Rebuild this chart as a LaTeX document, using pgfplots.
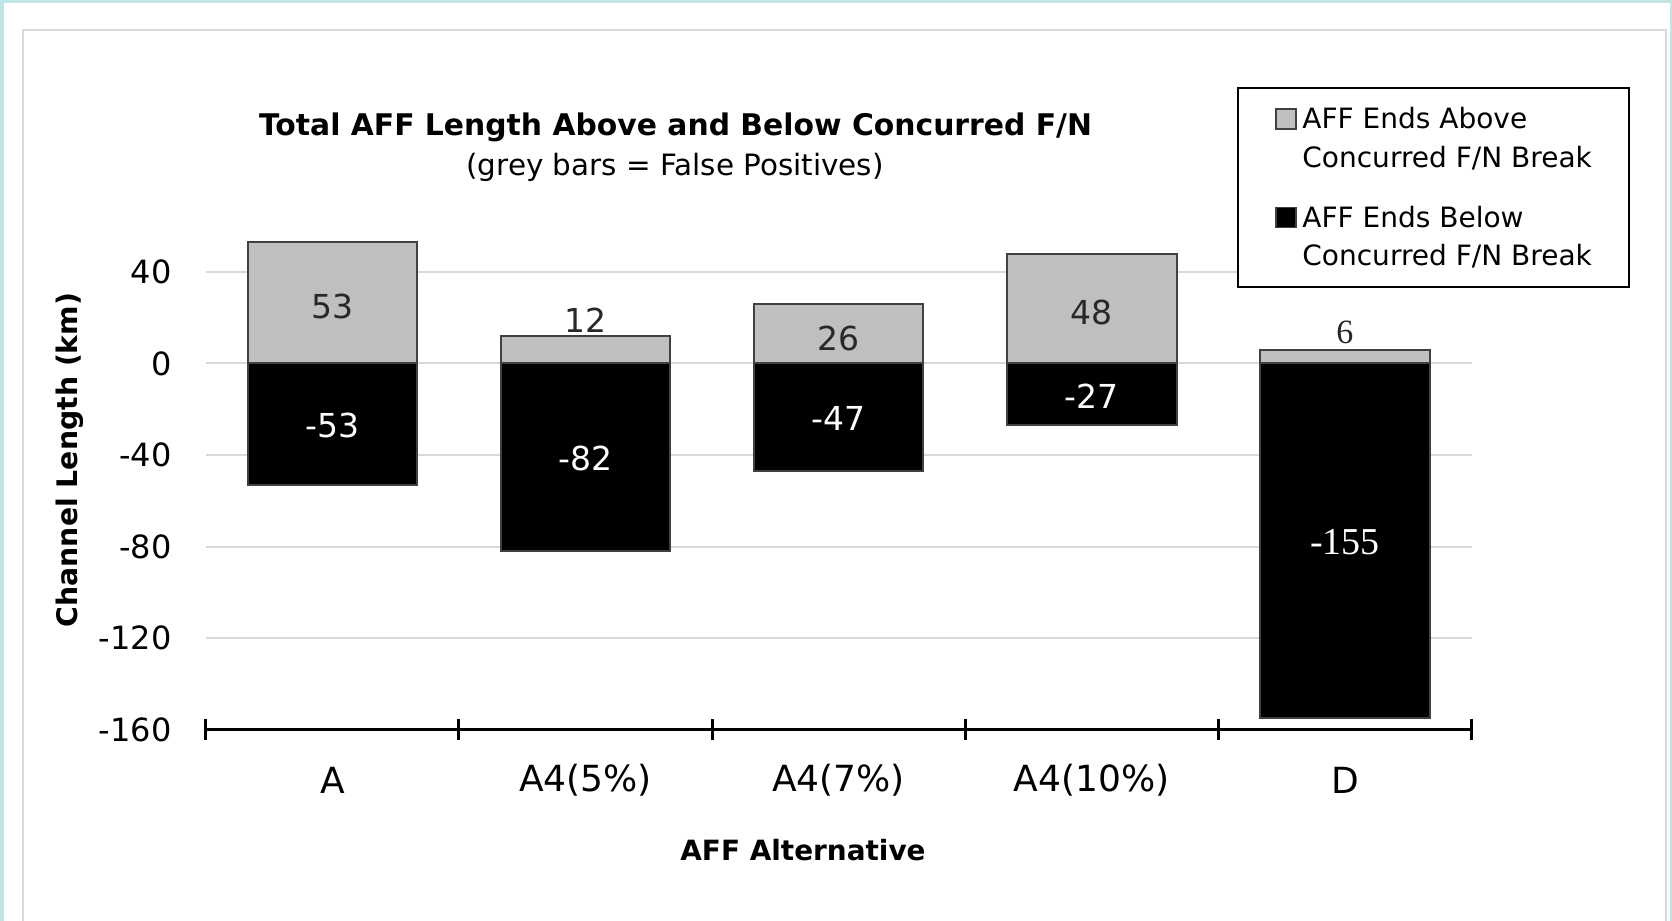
\documentclass[border=0pt]{standalone}
\usepackage{pgfplots}
\pgfplotsset{compat=1.18}
\usepackage{fontspec}
\setmainfont{DejaVu Sans}
\newfontfamily\numserif{Liberation Serif}
\definecolor{frameteal}{RGB}{193,228,228}
\definecolor{panelgrey}{RGB}{217,217,217}
\definecolor{gridgrey}{RGB}{217,217,217}
\definecolor{bargrey}{RGB}{191,191,191}
\definecolor{edgegrey}{RGB}{64,64,64}
\definecolor{labeldark}{RGB}{40,40,40}
\newcommand{\fs}[1]{\fontsize{#1bp}{#1bp}\selectfont}
\begin{document}
\begin{tikzpicture}[x=1bp,y=1bp]
\useasboundingbox (0,0) rectangle (836,460.5);
\fill[frameteal] (0,0) rectangle (836,460.5);
\fill[white] (2,-1) rectangle (835,459);
\draw[panelgrey, line width=1bp] (11.5,-5) rectangle (833,445.5);
\begin{axis}[
  at={(102.9bp,95.55bp)}, anchor=south west,
  scale only axis, width=632.85bp, height=251.9bp,
  xmin=-0.5, xmax=4.5, ymin=-160, ymax=60,
  axis x line*=bottom, axis y line*=left,
  x axis line style={-, line width=1.5bp, black},
  y axis line style={draw=none},
  xtick={0,1,2,3,4}, xticklabels={A,A4(5\%),A4(7\%),A4(10\%),D},
  minor xtick={-0.5,0.5,1.5,2.5,3.5,4.5},
  major tick length=0pt, minor tick length=10.5bp, tick align=center,
  x tick style={line width=1.5bp, black},
  ytick={-160,-120,-80,-40,0,40}, yticklabels={-160,-120,-80,-40,0,40},
  y tick style={draw=none},
  ymajorgrids, grid style={line width=1bp, gridgrey},
  xticklabel style={font=\fs{18}, anchor=center, yshift=-25bp},
  yticklabel style={font=\fs{16}, anchor=east, inner sep=0pt, xshift=-17bp},
]
% False positives (grey) and below-break lengths (black)
\addplot[ybar, bar width=0.67, bar shift=0pt, fill=bargrey, draw=edgegrey, line width=1bp]
  coordinates {(0,53) (1,12) (2,26) (3,48) (4,6)};
\addplot[ybar, bar width=0.67, bar shift=0pt, fill=black, draw=edgegrey, line width=1bp]
  coordinates {(0,-53) (1,-82) (2,-47) (3,-27) (4,-155)};
% data labels
\addplot[draw=none, mark=none, nodes near coords, point meta=explicit symbolic,
  nodes near coords align={center},
  every node near coord/.append style={font=\fs{16.5}, text=labeldark, anchor=center}]
  coordinates {(0,25.1) [53] (1,19.0) [12] (2,11.1) [26] (3,22.3) [48]};
\addplot[draw=none, mark=none, nodes near coords, point meta=explicit symbolic,
  nodes near coords align={center},
  every node near coord/.append style={font=\numserif\fs{17}, text=labeldark, anchor=center}]
  coordinates {(4,13.4) [6]};
\addplot[draw=none, mark=none, nodes near coords, point meta=explicit symbolic,
  nodes near coords align={center},
  every node near coord/.append style={font=\fs{16.5}, text=white, anchor=center}]
  coordinates {(0,-27.1) [-53] (1,-41.5) [-82] (2,-24.2) [-47] (3,-14.5) [-27]};
\addplot[draw=none, mark=none, nodes near coords, point meta=explicit symbolic,
  nodes near coords align={center},
  every node near coord/.append style={font=\numserif\fs{19}, text=white, anchor=center}]
  coordinates {(4,-77.9) [-155]};
\end{axis}
% titles and axis labels
\node[font=\bfseries\fs{14.9}] at (337.75,397) {Total AFF Length Above and Below Concurred F/N};
\node[font=\fs{14.7}] at (337.5,376.8) {(grey bars = False Positives)};
\node[font=\bfseries\fs{14.15}, rotate=90] at (35,230.5) {Channel Length (km)};
\node[font=\bfseries\fs{13.95}] at (401.5,35.5) {AFF Alternative};
% legend
\draw[black, line width=1bp, fill=white] (619,416.5) rectangle (814.5,317);
\draw[edgegrey, line width=0.75bp, fill=bargrey] (638,396) rectangle (648,406);
\draw[edgegrey, line width=0.75bp, fill=black] (638,346.75) rectangle (648,356.75);
\node[anchor=base west, inner sep=0pt, font=\fs{14}] at (651,396) {AFF Ends Above};
\node[anchor=base west, inner sep=0pt, font=\fs{14}] at (651,376.5) {Concurred F/N Break};
\node[anchor=base west, inner sep=0pt, font=\fs{14}] at (651,346.75) {AFF Ends Below};
\node[anchor=base west, inner sep=0pt, font=\fs{14}] at (651,327.5) {Concurred F/N Break};
\end{tikzpicture}
\end{document}
